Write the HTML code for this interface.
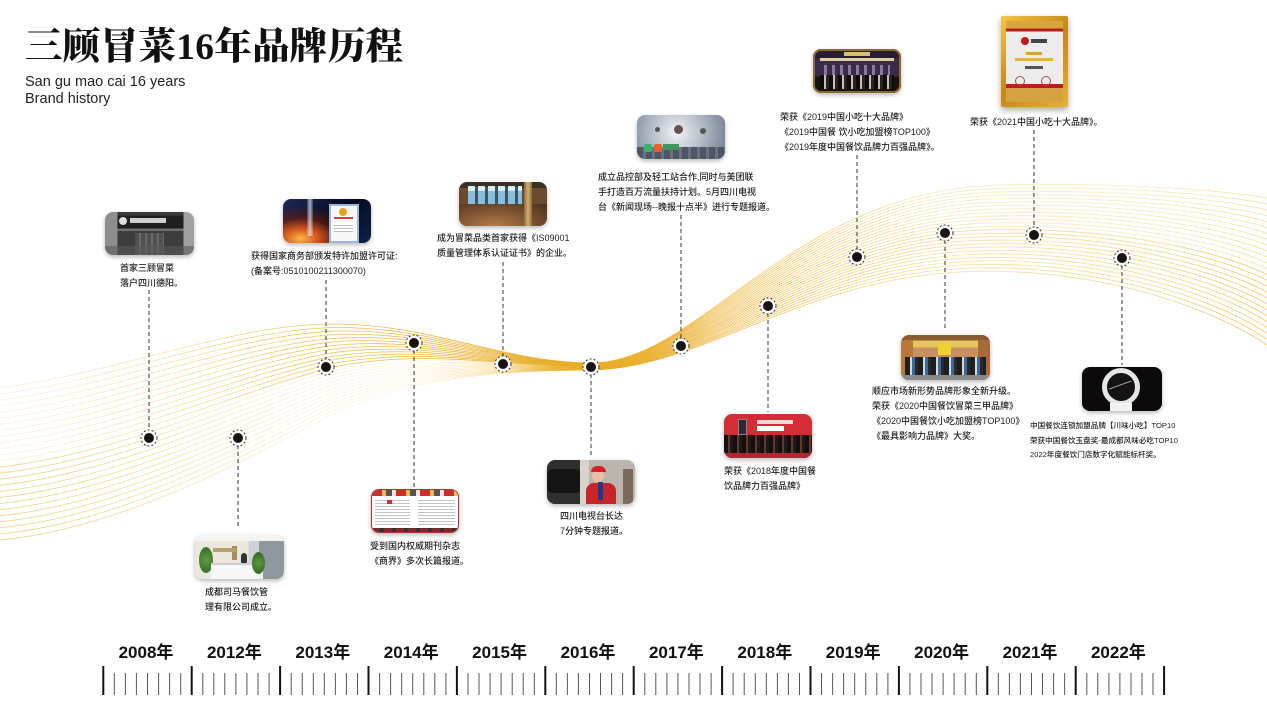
<!DOCTYPE html>
<html>
<head>
<meta charset="utf-8">
<style>
*{margin:0;padding:0;box-sizing:border-box}
html,body{width:1267px;height:713px;background:#fff;overflow:hidden}
#wrap{position:relative;width:1267px;height:713px;background:#fff;font-family:"Liberation Sans","Noto Sans CJK SC",sans-serif;color:#2a2a2a}
svg.layer{position:absolute;left:0;top:0}
.title{position:absolute;left:25px;top:29px;font-family:"Liberation Serif","Noto Serif CJK SC",serif;font-weight:900;font-size:37.5px;line-height:1;letter-spacing:0.3px;color:#111;white-space:nowrap}
.sub{position:absolute;left:25px;top:74px;font-family:"Liberation Sans",sans-serif;font-size:14.5px;line-height:17px;color:#222;white-space:nowrap}
.tx{position:absolute;font-size:9px;line-height:15px;white-space:nowrap;color:#1e1e1e;font-weight:500}
.tx.s{font-size:7.6px;line-height:14.7px}
.ph{position:absolute;border-radius:8px;overflow:hidden;box-shadow:0 2px 5px rgba(0,0,0,.28)}
.ph div{position:absolute}
.yr{position:absolute;top:642px;width:88px;text-align:center;font-family:"Liberation Sans","Noto Sans CJK SC",sans-serif;font-weight:bold;font-size:17px;line-height:22px;color:#111;white-space:nowrap}
</style>
</head>
<body>
<div id="wrap">
<svg class="layer" width="1267" height="713" viewBox="0 0 1267 713">
  <defs>
    <linearGradient id="gt" gradientUnits="userSpaceOnUse" x1="0" y1="0" x2="1267" y2="0">
      <stop offset="0" stop-color="#EDB52C" stop-opacity="0.15"/>
      <stop offset="0.12" stop-color="#EDB52C" stop-opacity="0.35"/>
      <stop offset="0.25" stop-color="#EBB02A" stop-opacity="0.75"/>
      <stop offset="0.45" stop-color="#E8AC24" stop-opacity="0.95"/>
      <stop offset="0.6" stop-color="#EBB02A" stop-opacity="0.7"/>
      <stop offset="0.75" stop-color="#EDB52C" stop-opacity="0.3"/>
      <stop offset="0.9" stop-color="#EDB52C" stop-opacity="0.3"/>
      <stop offset="1" stop-color="#EDB52C" stop-opacity="0.45"/>
    </linearGradient>
    <linearGradient id="gb" gradientUnits="userSpaceOnUse" x1="0" y1="0" x2="1267" y2="0">
      <stop offset="0" stop-color="#EDB52C" stop-opacity="0.65"/>
      <stop offset="0.12" stop-color="#EDB52C" stop-opacity="0.45"/>
      <stop offset="0.22" stop-color="#EDB52C" stop-opacity="0.18"/>
      <stop offset="0.32" stop-color="#EDB52C" stop-opacity="0.1"/>
      <stop offset="0.4" stop-color="#EBB02A" stop-opacity="0.4"/>
      <stop offset="0.47" stop-color="#E8AC24" stop-opacity="0.95"/>
      <stop offset="0.6" stop-color="#EBB02A" stop-opacity="0.75"/>
      <stop offset="0.75" stop-color="#EDB52C" stop-opacity="0.4"/>
      <stop offset="0.9" stop-color="#EDB52C" stop-opacity="0.55"/>
      <stop offset="1" stop-color="#EBB02A" stop-opacity="0.75"/>
    </linearGradient>
  </defs>
  <g id="waves" fill="none" stroke-width="0.8"></g>

  <g stroke="#333" stroke-width="1" stroke-dasharray="4 3" fill="none">
    <line x1="149" y1="290" x2="149" y2="431"/>
    <line x1="238" y1="445" x2="238" y2="528"/>
    <line x1="326" y1="280" x2="326" y2="360"/>
    <line x1="414" y1="350" x2="414" y2="488"/>
    <line x1="503" y1="262" x2="503" y2="357"/>
    <line x1="591" y1="374" x2="591" y2="458"/>
    <line x1="681" y1="215" x2="681" y2="339"/>
    <line x1="768" y1="313" x2="768" y2="412"/>
    <line x1="857" y1="155" x2="857" y2="250"/>
    <line x1="945" y1="240" x2="945" y2="330"/>
    <line x1="1034" y1="130" x2="1034" y2="228"/>
    <line x1="1122" y1="265" x2="1122" y2="365"/>
  </g>

  <g id="dots">
    <g transform="translate(149,438)"><circle r="8" fill="#fff" stroke="#333" stroke-width="1" stroke-dasharray="2 2"/><circle r="5" fill="#1a1311"/></g>
    <g transform="translate(238,438)"><circle r="8" fill="#fff" stroke="#333" stroke-width="1" stroke-dasharray="2 2"/><circle r="5" fill="#1a1311"/></g>
    <g transform="translate(326,367)"><circle r="8" fill="#fff" stroke="#333" stroke-width="1" stroke-dasharray="2 2"/><circle r="5" fill="#1a1311"/></g>
    <g transform="translate(414,343)"><circle r="8" fill="#fff" stroke="#333" stroke-width="1" stroke-dasharray="2 2"/><circle r="5" fill="#1a1311"/></g>
    <g transform="translate(503,364)"><circle r="8" fill="#fff" stroke="#333" stroke-width="1" stroke-dasharray="2 2"/><circle r="5" fill="#1a1311"/></g>
    <g transform="translate(591,367)"><circle r="8" fill="#fff" stroke="#333" stroke-width="1" stroke-dasharray="2 2"/><circle r="5" fill="#1a1311"/></g>
    <g transform="translate(681,346)"><circle r="8" fill="#fff" stroke="#333" stroke-width="1" stroke-dasharray="2 2"/><circle r="5" fill="#1a1311"/></g>
    <g transform="translate(768,306)"><circle r="8" fill="#fff" stroke="#333" stroke-width="1" stroke-dasharray="2 2"/><circle r="5" fill="#1a1311"/></g>
    <g transform="translate(857,257)"><circle r="8" fill="#fff" stroke="#333" stroke-width="1" stroke-dasharray="2 2"/><circle r="5" fill="#1a1311"/></g>
    <g transform="translate(945,233)"><circle r="8" fill="#fff" stroke="#333" stroke-width="1" stroke-dasharray="2 2"/><circle r="5" fill="#1a1311"/></g>
    <g transform="translate(1034,235)"><circle r="8" fill="#fff" stroke="#333" stroke-width="1" stroke-dasharray="2 2"/><circle r="5" fill="#1a1311"/></g>
    <g transform="translate(1122,258)"><circle r="8" fill="#fff" stroke="#333" stroke-width="1" stroke-dasharray="2 2"/><circle r="5" fill="#1a1311"/></g>
  </g>

  <g id="ruler"></g>
</svg>

<div class="title">三顾冒菜16年品牌历程</div>
<div class="sub">San gu mao cai 16 years<br>Brand history</div>

<div class="ph" style="left:105px;top:212px;width:89px;height:43px;background:linear-gradient(90deg,#8e8e8e 0 14%,transparent 14% 88%,#a0a0a0 88%),linear-gradient(#3a3a3a 0 8%,#1f1f1f 8% 38%,#707070 38% 44%,#3c3c3c 44% 100%)">
  <div style="left:16%;top:11%;width:8px;height:8px;border-radius:50%;background:#ddd"></div>
  <div style="left:28%;top:15%;width:40%;height:5px;background:#cfcfcf"></div>
  <div style="left:34%;top:48%;width:32%;height:52%;background:repeating-linear-gradient(90deg,#505050 0 4px,#6a6a6a 4px 6px)"></div>
  <div style="left:0;top:80%;width:100%;height:20%;background:rgba(90,90,90,.6)"></div>
</div>
<div class="ph" style="left:195px;top:535px;width:89px;height:44px;background:linear-gradient(90deg,#ece7dd 0 60%,#cdd2d3 60% 72%,#8f999d 72% 100%)">
  <div style="left:0;top:0;width:100%;height:14%;background:#f4f4f2"></div>
  <div style="left:4%;top:28%;width:14px;height:26px;border-radius:50%;background:radial-gradient(circle,#5f9a45 0,#3f7530 70%)"></div>
  <div style="left:42%;top:26%;width:5px;height:14px;background:#a88a5a"></div>
  <div style="left:20%;top:30%;width:26%;height:4px;background:#b8a070"></div>
  <div style="left:52%;top:40%;width:6px;height:12px;border-radius:3px;background:#333"></div>
  <div style="left:18%;top:64%;width:58%;height:36%;background:#f7f7f7;border-top:2px solid #ccc"></div>
  <div style="left:64%;top:38%;width:13px;height:22px;border-radius:50%;background:radial-gradient(circle,#5b9a3f 0,#3d7028 70%)"></div>
</div>
<div class="ph" style="left:283px;top:199px;width:88px;height:44px;background:radial-gradient(ellipse at 20% 90%,#ffb545 0,#d0541c 18%,rgba(120,30,10,.6) 36%,transparent 58%),linear-gradient(135deg,#1d2a58 0,#070a1c 55%,#10204a 100%)">
  <div style="left:27%;top:0;width:6px;height:85%;background:linear-gradient(90deg,rgba(200,220,255,.2),rgba(230,240,255,.7),rgba(200,220,255,.2))"></div>
  <div style="left:52%;top:12%;width:34%;height:88%;background:#f7f7f7;border:2px solid #9bb8d8"></div>
  <div style="left:64%;top:20%;width:8px;height:8px;border-radius:50%;background:#e8a020"></div>
  <div style="left:58%;top:42%;width:22%;height:2px;background:#d04040"></div>
  <div style="left:58%;top:55%;width:22%;height:20%;background:repeating-linear-gradient(#fff 0 2px,#bbb 2px 3px)"></div>
</div>
<div class="ph" style="left:371px;top:489px;width:88px;height:44px;background:#fff;border:1px solid #b53030">
  <div style="left:0;top:0;width:100%;height:14%;background:repeating-linear-gradient(90deg,#c8302a 0 10px,#e4c05a 10px 14px,#555 14px 20px,#f0e8e0 20px 24px)"></div>
  <div style="left:4%;top:20%;width:40%;height:68%;background:repeating-linear-gradient(#fff 0 2px,#c4c4c4 2px 3px)"></div>
  <div style="left:54%;top:20%;width:42%;height:68%;background:repeating-linear-gradient(#fff 0 2px,#c4c4c4 2px 3px)"></div>
  <div style="left:18%;top:24%;width:5px;height:4px;background:#d03030"></div>
  <div style="left:0;top:90%;width:100%;height:10%;background:repeating-linear-gradient(90deg,#7a2a2a 0 8px,#333 8px 12px)"></div>
</div>
<div class="ph" style="left:459px;top:182px;width:88px;height:44px;background:linear-gradient(#3a3026 0 14%,#6b4a30 14% 100%)">
  <div style="left:10%;top:12%;width:62%;height:40%;background:repeating-linear-gradient(90deg,#86bedc 0 7px,#3e5362 7px 10px)"></div>
  <div style="left:10%;top:10%;width:62%;height:10%;background:repeating-linear-gradient(90deg,#d8ecf4 0 7px,transparent 7px 10px)"></div>
  <div style="left:0;top:50%;width:100%;height:50%;background:radial-gradient(ellipse at 40% 100%,#b47c4a 0,#7a5030 55%,#4a3020 100%)"></div>
  <div style="left:74%;top:0;width:8px;height:100%;background:linear-gradient(90deg,#8a6a40,#d4b070,#8a6a40)"></div>
</div>
<div class="ph" style="left:547px;top:460px;width:88px;height:44px;background:linear-gradient(90deg,#2f2f2f 0 38%,#bab6ae 38% 100%)">
  <div style="left:0;top:20%;width:40%;height:55%;border-radius:6px;background:#151515"></div>
  <div style="left:38%;top:0;width:10%;height:100%;background:#d8d4cc"></div>
  <div style="left:51%;top:22%;width:12px;height:12px;border-radius:50%;background:#e8c0a8"></div>
  <div style="left:50%;top:14%;width:15px;height:6px;border-radius:6px 6px 0 0;background:#d8202a"></div>
  <div style="left:44%;top:52%;width:34%;height:48%;border-radius:8px 8px 0 0;background:#c8242a"></div>
  <div style="left:58%;top:50%;width:5px;height:18px;background:#1a3a8a"></div>
  <div style="left:86%;top:20%;width:12%;height:80%;background:#7a6a5a"></div>
</div>
<div class="ph" style="left:637px;top:115px;width:88px;height:44px;background:radial-gradient(circle at 45% 40%,#f2f3f5 0,#bcc4ce 40%,#6f7a8c 100%)">
  <div style="left:0;top:72%;width:100%;height:28%;background:repeating-linear-gradient(90deg,#4e5664 0 6px,#6a7280 6px 9px)"></div>
  <div style="left:42%;top:22%;width:9px;height:9px;border-radius:50%;background:#6a5050"></div>
  <div style="left:20%;top:28%;width:5px;height:5px;border-radius:50%;background:#555"></div>
  <div style="left:72%;top:30%;width:6px;height:6px;border-radius:50%;background:#555"></div>
  <div style="left:8%;top:66%;width:8px;height:8px;border-radius:2px;background:#37b36a"></div>
  <div style="left:19%;top:66%;width:8px;height:8px;border-radius:2px;background:#e8602a"></div>
  <div style="left:30%;top:67%;width:16px;height:6px;background:#3a9a5a"></div>
</div>
<div class="ph" style="left:724px;top:414px;width:88px;height:44px;background:linear-gradient(#d42d35 0 56%,#2a1616 56% 100%)">
  <div style="left:16%;top:12%;width:9px;height:16px;background:#2a2a3a;border:1px solid #888"></div>
  <div style="left:38%;top:14%;width:40%;height:4px;background:#f4d8d8"></div>
  <div style="left:38%;top:28%;width:30%;height:5px;background:#fff"></div>
  <div style="left:0;top:48%;width:100%;height:40%;background:repeating-linear-gradient(90deg,#151010 0 4px,#5e3a30 4px 6px,#241818 6px 9px)"></div>
  <div style="left:0;top:88%;width:100%;height:12%;background:#b02830"></div>
</div>
<div class="ph" style="left:813px;top:49px;width:88px;height:44px;background:linear-gradient(#2a1c30 0 22%,#3a2c48 22% 62%,#16120e 62% 100%)">
  <div style="left:35%;top:6%;width:30%;height:4px;background:#d8c070"></div>
  <div style="left:8%;top:20%;width:84%;height:3px;background:#e0d0a0"></div>
  <div style="left:12%;top:36%;width:76%;height:24%;background:repeating-linear-gradient(90deg,#8a7aa0 0 3px,transparent 3px 8px)"></div>
  <div style="left:8%;top:58%;width:84%;height:32%;background:repeating-linear-gradient(90deg,#0e0c0a 0 4px,#c8c0b8 4px 6px,#2a2222 6px 9px)"></div>
  <div style="left:0;top:0;width:100%;height:100%;border:2px solid #8a6a2a;border-radius:8px"></div>
</div>
<div class="ph" style="left:901px;top:335px;width:89px;height:45px;background:linear-gradient(#8a5a30 0 12%,#e6c65c 12% 28%,#c89060 28% 52%,#3c3c3c 52% 100%)">
  <div style="left:0;top:12%;width:14%;height:88%;background:#b8783a"></div>
  <div style="left:86%;top:12%;width:14%;height:88%;background:#a86a3a"></div>
  <div style="left:42%;top:18%;width:14%;height:26%;background:#f0d030"></div>
  <div style="left:4%;top:48%;width:92%;height:52%;background:repeating-linear-gradient(90deg,#1e1e1e 0 5px,#d8d8d8 5px 7px,#3a6a9a 7px 10px,#2a2a2a 10px 13px)"></div>
  <div style="left:0;top:88%;width:100%;height:12%;background:#8a8a8a"></div>
</div>
<div class="ph" style="left:1001px;top:16px;width:67px;height:91px;border-radius:2px;background:linear-gradient(135deg,#f3c648 0,#c58618 50%,#e8b232 100%);box-shadow:0 3px 7px rgba(0,0,0,.35)">
  <div style="left:5px;top:5px;width:57px;height:81px;background:linear-gradient(#d7a640 0 9%,#b81e1e 9% 13%,#ececec 13% 78%,#b81e1e 78% 83%,#d4a240 83% 100%)"></div>
  <div style="left:20px;top:21px;width:8px;height:8px;border-radius:50%;background:#c01a1a"></div>
  <div style="left:30px;top:23px;width:16px;height:4px;background:#444"></div>
  <div style="left:25px;top:36px;width:16px;height:3px;background:#e0a030"></div>
  <div style="left:14px;top:42px;width:38px;height:3px;background:#e8b040"></div>
  <div style="left:24px;top:50px;width:18px;height:3px;background:#555"></div>
  <div style="left:14px;top:60px;width:10px;height:10px;border-radius:50%;border:1px solid #a05050"></div>
  <div style="left:40px;top:60px;width:10px;height:10px;border-radius:50%;border:1px solid #a05050"></div>
</div>
<div class="ph" style="left:1082px;top:367px;width:80px;height:44px;background:#0c0a0a">
  <div style="left:20px;top:1px;width:38px;height:38px;border-radius:50%;border:5px solid #e6e6e6;background:#151212"></div>
  <div style="left:27px;top:14px;width:24px;height:10px;background:linear-gradient(160deg,transparent 40%,#ddd 42%,transparent 48%)"></div>
  <div style="left:28px;top:36px;width:22px;height:8px;background:#f2f2f2"></div>
</div>

<div class="tx" style="left:120px;top:260.5px">首家三顾冒菜<br>落户四川德阳。</div>
<div class="tx" style="left:205px;top:584.5px">成都司马餐饮管<br>理有限公司成立。</div>
<div class="tx" style="left:251px;top:248.5px">获得国家商务部颁发特许加盟许可证:<br>(备案号:0510100211300070)</div>
<div class="tx" style="left:370px;top:538.5px">受到国内权威期刊杂志<br>《商界》多次长篇报道。</div>
<div class="tx" style="left:437px;top:230.5px">成为冒菜品类首家获得《IS09001<br>质量管理体系认证证书》的企业。</div>
<div class="tx" style="left:560px;top:509px">四川电视台长达<br>7分钟专题报道。</div>
<div class="tx" style="left:598px;top:170px">成立品控部及轻工站合作,同时与美团联<br>手打造百万流量扶持计划。5月四川电视<br>台《新闻现场--晚报十点半》进行专题报道。</div>
<div class="tx" style="left:724px;top:464px">荣获《2018年度中国餐<br>饮品牌力百强品牌》</div>
<div class="tx" style="left:780px;top:110px">荣获《2019中国小吃十大品牌》<br>《2019中国餐 饮小吃加盟榜TOP100》<br>《2019年度中国餐饮品牌力百强品牌》。</div>
<div class="tx" style="left:872px;top:384px">顺应市场新形势品牌形象全新升级。<br>荣获《2020中国餐饮冒菜三甲品牌》<br>《2020中国餐饮小吃加盟榜TOP100》<br>《最具影响力品牌》大奖。</div>
<div class="tx" style="left:970px;top:114.5px">荣获《2021中国小吃十大品牌》。</div>
<div class="tx s" style="left:1030px;top:419px">中国餐饮连锁加盟品牌【川味小吃】TOP10<br>荣获中国餐饮玉盘奖-最成都风味必吃TOP10<br>2022年度餐饮门店数字化赋能标杆奖。</div>

<div class="yr" style="left:102px">2008年</div>
<div class="yr" style="left:190.4px">2012年</div>
<div class="yr" style="left:278.8px">2013年</div>
<div class="yr" style="left:367.2px">2014年</div>
<div class="yr" style="left:455.6px">2015年</div>
<div class="yr" style="left:544px">2016年</div>
<div class="yr" style="left:632.4px">2017年</div>
<div class="yr" style="left:720.8px">2018年</div>
<div class="yr" style="left:809.2px">2019年</div>
<div class="yr" style="left:897.6px">2020年</div>
<div class="yr" style="left:986px">2021年</div>
<div class="yr" style="left:1074.4px">2022年</div>
</div>

<script>
(function(){
  var T=[[0,388],[120,372],[230,325],[330,324],[430,323],[500,362],[590,363],[700,364],[790,190],[1000,185],[1120,182],[1220,190],[1267,198]];
  var B=[[0,540],[110,530],[230,470],[330,415],[420,375],[500,371],[590,370],[700,369],[800,280],[960,272],[1080,266],[1200,300],[1267,345]];
  var N=26,s='';
  for(var i=0;i<N;i++){
    var t=i/(N-1);
    var p=[];
    for(var j=0;j<T.length;j++){
      p.push((T[j][0]+(B[j][0]-T[j][0])*t).toFixed(1)+','+(T[j][1]+(B[j][1]-T[j][1])*t).toFixed(1));
    }
    var d='M'+p[0]+' C'+p[1]+' '+p[2]+' '+p[3]+' C'+p[4]+' '+p[5]+' '+p[6]+' C'+p[7]+' '+p[8]+' '+p[9]+' C'+p[10]+' '+p[11]+' '+p[12];
    s+='<path d="'+d+'" stroke="url(#'+(i<N/2?'gt':'gb')+')"/>';
  }
  document.getElementById('waves').innerHTML=s;

  var r='';
  var x0=103.3,seg=88.4;
  for(var k=0;k<=12;k++){
    var x=x0+seg*k;
    r+='<line x1="'+x.toFixed(1)+'" y1="666" x2="'+x.toFixed(1)+'" y2="695" stroke="#111" stroke-width="2"/>';
    if(k<12){
      for(var m=1;m<8;m++){
        var xm=x+seg*m/8;
        r+='<line x1="'+xm.toFixed(1)+'" y1="673" x2="'+xm.toFixed(1)+'" y2="695" stroke="#555" stroke-width="1"/>';
      }
    }
  }
  document.getElementById('ruler').innerHTML=r;
})();
</script>
</body>
</html>
